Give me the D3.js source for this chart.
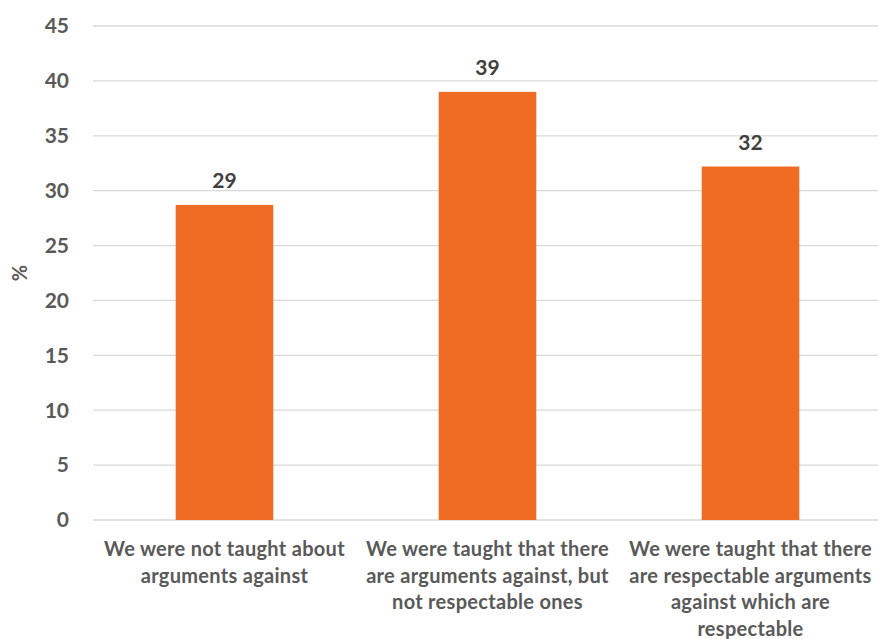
<!DOCTYPE html>
<html><head><meta charset="utf-8">
<script src="https://cdn.jsdelivr.net/npm/d3@7"></script>
<style>body{margin:0;background:#fff;} svg{display:block;}</style>
</head><body>
<svg id="c" width="878" height="639"></svg>
<script>
const categories = [
  ["We were not taught about", "arguments against"],
  ["We were taught that there", "are arguments against, but", "not respectable ones"],
  ["We were taught that there", "are respectable arguments", "against which are", "respectable"]
];
const values = [28.7, 39.0, 32.2];
const valueLabels = ["29", "39", "32"];
const yTicks = [0, 5, 10, 15, 20, 25, 30, 35, 40, 45];
const yAxisTitle = "%";

(function() {
const svg = d3.select("#c");
const font = "Lato, 'Open Sans', sans-serif";
const mLeft = 93, mRight = 882, mTop = 26, mBottom = 520;
const x = d3.scaleBand().domain(d3.range(values.length)).range([mLeft, mRight]).paddingInner(0.629).paddingOuter(0.3145);
const y = d3.scaleLinear().domain([0, 45]).range([mBottom, mTop]);

svg.append("g").selectAll("line").data(yTicks).join("line")
  .attr("x1", mLeft).attr("x2", mRight)
  .attr("y1", d => y(d)).attr("y2", d => y(d))
  .attr("stroke", "#d9d9d9").attr("stroke-width", 1.3);

svg.append("g").selectAll("text").data(yTicks).join("text")
  .attr("x", 69).attr("y", d => y(d)).attr("dy", "0.35em")
  .attr("text-anchor", "end").attr("font-family", font).attr("font-weight", "bold")
  .attr("font-size", 21).attr("fill", "#595959").text(d => d);

svg.append("text").attr("transform", `translate(27,${(mTop+mBottom)/2}) rotate(-90)`)
  .attr("text-anchor", "middle").attr("font-family", font).attr("font-weight", "bold")
  .attr("font-size", 20).attr("fill", "#595959").text(yAxisTitle);

svg.append("g").selectAll("rect").data(values).join("rect")
  .attr("x", (d, i) => x(i)).attr("width", x.bandwidth())
  .attr("y", d => y(d)).attr("height", d => y(0) - y(d))
  .attr("fill", "#F06B23");

svg.append("g").selectAll("text").data(values).join("text")
  .attr("x", (d, i) => x(i) + x.bandwidth() / 2).attr("y", d => y(d) - 17)
  .attr("text-anchor", "middle").attr("font-family", font).attr("font-weight", "bold")
  .attr("font-size", 21).attr("fill", "#404040").text((d, i) => valueLabels[i]);

const cg = svg.append("g").selectAll("text").data(categories).join("text")
  .attr("x", (d, i) => x(i) + x.bandwidth() / 2).attr("y", 556)
  .attr("text-anchor", "middle").attr("font-family", font).attr("font-weight", "bold")
  .attr("font-size", 20).attr("letter-spacing", 0.3).attr("fill", "#595959");
cg.selectAll("tspan").data(d => d).join("tspan")
  .attr("x", function() { return d3.select(this.parentNode).attr("x"); })
  .attr("dy", (d, j) => j === 0 ? 0 : 26.5).text(d => d);
})();
</script>
</body></html>
